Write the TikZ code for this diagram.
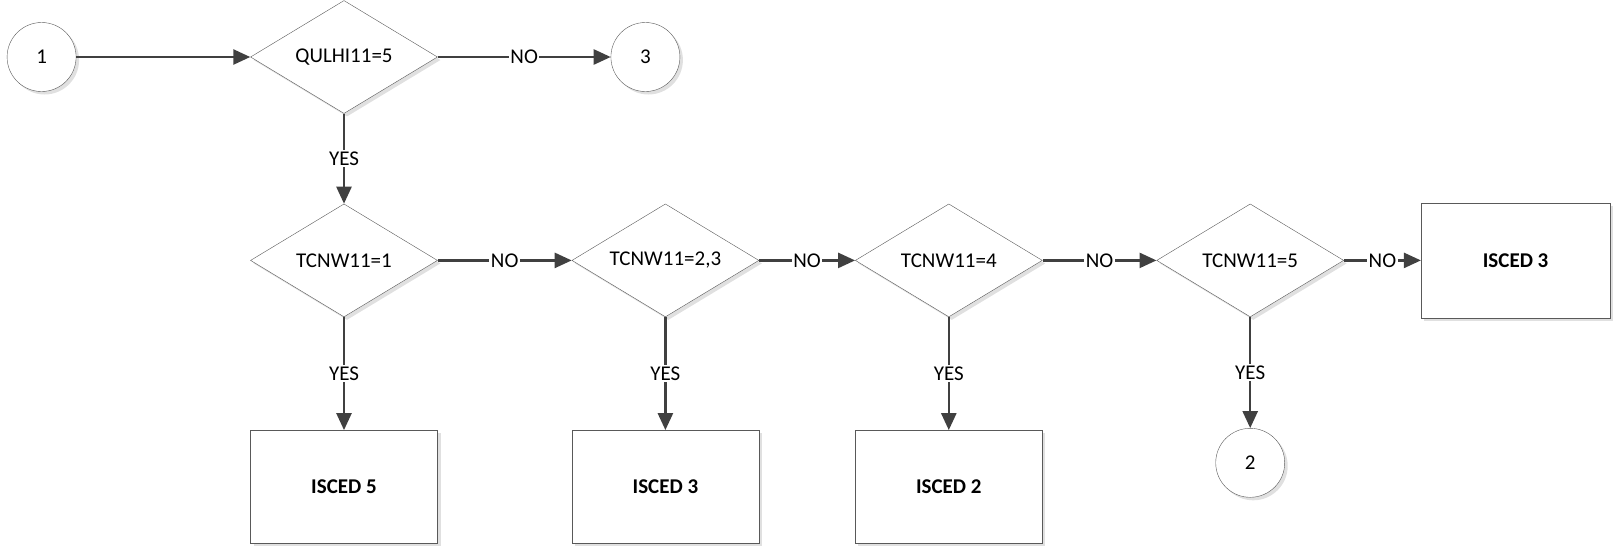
\documentclass[tikz,border=0pt]{standalone}
\usepackage{fontspec}
\setmainfont{Carlito}
\usepackage{tikz}
\usetikzlibrary{positioning, shapes.geometric, arrows.meta, shadows}
\definecolor{lineclr}{HTML}{404040}
\definecolor{edgeclr}{HTML}{595959}

\begin{document}
\begin{tikzpicture}[
    x=1pt, y=1pt,
    font            = \fontsize{21}{25}\selectfont,
    node distance   = 90pt and 134pt,
    shade/.style    = {drop shadow={shadow xshift=3pt, shadow yshift=-3pt,
                       fill=black!12, opacity=1}},
    test/.style     = {draw=edgeclr, diamond, shape aspect=1.65, fill=white,
                       minimum width=187pt, minimum height=113pt,
                       inner sep=0pt, shade},
    res/.style      = {draw=edgeclr, rectangle, fill=white,
                       minimum width=187pt, minimum height=113pt,
                       font=\fontsize{21}{25}\selectfont\bfseries, shade},
    conn/.style     = {draw=edgeclr, circle, fill=white,
                       minimum size=69pt, inner sep=0pt, shade},
    arr/.style      = {-{Triangle[length=17pt, width=15pt]},
                       line width=2.5pt, draw=lineclr},
    lbl/.style      = {fill=white, inner sep=1.5pt, text=black}
]
\useasboundingbox (0,0) rectangle (1614,-550);

% first test
\node[test] (q0) at (344,-57) {QULHI11=5};
\node[conn, left=174pt of q0]  (c1) {1};
\node[conn, right=173pt of q0] (c3) {3};

% row of TCNW11 tests
\node[test, below=90pt of q0]  (t1) {TCNW11=1};
\node[test, right=134pt of t1] (t2) {TCNW11=2,3};
\node[test, right=96pt of t2]  (t3) {TCNW11=4};
\node[test, right=114pt of t3] (t4) {TCNW11=5};
\node[res, right=77pt of t4, minimum width=189pt, minimum height=115pt] (r4) {ISCED 3};

% results
\node[res, below=113pt of t1] (r1) {ISCED 5};
\node[res, below=113pt of t2] (r2) {ISCED 3};
\node[res, below=113pt of t3] (r3) {ISCED 2};
\node[conn, below=111pt of t4] (c2) {2};

\draw[arr] (c1) -- (q0);
\draw[arr] (q0) -- node[lbl] {NO}  (c3);
\draw[arr] (q0) -- node[lbl] {YES} (t1);

\draw[arr] (t1) -- node[lbl] {NO} (t2);
\draw[arr] (t2) -- node[lbl] {NO} (t3);
\draw[arr] (t3) -- node[lbl] {NO} (t4);
\draw[arr] (t4) -- node[lbl] {NO} (r4);

\draw[arr] (t1) -- node[lbl] {YES} (r1);
\draw[arr] (t2) -- node[lbl] {YES} (r2);
\draw[arr] (t3) -- node[lbl] {YES} (r3);
\draw[arr] (t4) -- node[lbl] {YES} (c2);

\end{tikzpicture}
\end{document}
